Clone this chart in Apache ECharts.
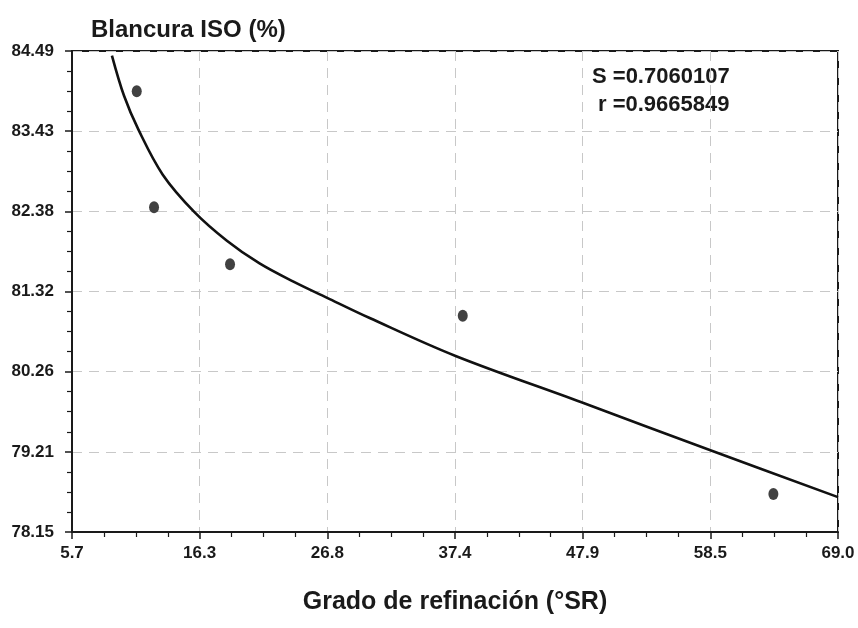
<!DOCTYPE html>
<html>
<head>
<meta charset="utf-8">
<script src="https://cdn.jsdelivr.net/npm/echarts@6/dist/echarts.min.js"></script>
<style>
html,body{margin:0;padding:0;background:#fff;}
#chart{width:858px;height:628px;}
</style>
</head>
<body>
<div id="chart"></div>
<script>
// Measured points
const pointX = [11.05, 12.48, 18.76, 37.99, 63.66];
const pointY = [83.96, 82.43, 81.68, 81.00, 78.65];
// Fitted curve
const curveX = [9.0, 10.0, 11.2, 13.2, 15.8, 18.5, 21.2, 24.0, 27.0, 30.3, 37.4, 47.8, 58.4, 69.0];
const curveY = [84.43, 83.90, 83.45, 82.86, 82.37, 81.99, 81.69, 81.45, 81.22, 80.97, 80.47, 79.86, 79.23, 78.61];
// Tick labels
const xTickLabels = ['5.7', '16.3', '26.8', '37.4', '47.9', '58.5', '69.0'];
const yTickLabels = ['78.15', '79.21', '80.26', '81.32', '82.38', '83.43', '84.49'];
const statText = ['S =0.7060107', 'r =0.9665849'];
const titleText = 'Blancura ISO (%)';
const xName = 'Grado de refinación (°SR)';

const xMin = 5.7, xMax = 69.0, yMin = 78.15, yMax = 84.49;
const FONT = "'Liberation Sans', Arial, sans-serif";

const chart = echarts.init(document.getElementById('chart'), null, {renderer: 'canvas'});
const option = {
  backgroundColor: '#ffffff',
  animation: false,
  title: {
    text: titleText, left: 86, top: 13,
    textStyle: {fontFamily: FONT, fontSize: 24, fontWeight: 'bold', color: '#1a1a1a'}
  },
  grid: {left: 72, right: 20, top: 51, bottom: 96, show: true, borderColor: '#1a1a1a', borderWidth: 2, outerBoundsMode: 'none'},
  xAxis: {
    type: 'value', min: xMin, max: xMax, interval: (xMax - xMin) / 6,
    name: xName, nameLocation: 'middle', nameGap: 58,
    nameTextStyle: {fontFamily: FONT, fontSize: 25, fontWeight: 'bold', color: '#1a1a1a'},
    axisLine: {show: true, lineStyle: {color: '#1a1a1a', width: 2}},
    axisTick: {show: true, length: 7, lineStyle: {color: '#1a1a1a', width: 1.5}},
    minorTick: {show: true, splitNumber: 4, length: 5, lineStyle: {color: '#1a1a1a', width: 1.2}},
    axisLabel: {margin: 13, fontFamily: FONT, fontSize: 17, fontWeight: 'bold', color: '#1a1a1a',
      formatter: (v, i) => xTickLabels[i]},
    splitLine: {show: true, lineStyle: {color: '#c8c8c8', width: 1, type: [10, 7]}}
  },
  yAxis: {
    type: 'value', min: yMin, max: yMax, interval: (yMax - yMin) / 6,
    axisLine: {show: true, lineStyle: {color: '#1a1a1a', width: 2}},
    axisTick: {show: true, length: 7, lineStyle: {color: '#1a1a1a', width: 1.5}},
    minorTick: {show: true, splitNumber: 4, length: 5, lineStyle: {color: '#1a1a1a', width: 1.2}},
    axisLabel: {margin: 18, fontFamily: FONT, fontSize: 17, fontWeight: 'bold', color: '#1a1a1a',
      formatter: (v, i) => yTickLabels[i]},
    splitLine: {show: true, lineStyle: {color: '#c8c8c8', width: 1, type: [10, 7]}}
  },
  graphic: [
    {type: 'text', left: 592, top: 66, style: {text: statText[0], font: "bold 22px 'Liberation Sans', Arial, sans-serif", fill: '#1a1a1a'}},
    {type: 'text', left: 598, top: 94, style: {text: statText[1], font: "bold 22px 'Liberation Sans', Arial, sans-serif", fill: '#1a1a1a'}}
  ],
  series: [
    {
      type: 'line', smooth: 0.35, showSymbol: false, clip: true,
      data: curveX.map((x, i) => [x, curveY[i]]),
      lineStyle: {color: '#111', width: 2.6}
    },
    {
      type: 'scatter', symbol: 'circle', symbolSize: [10, 12],
      data: pointX.map((x, i) => [x, pointY[i]]),
      itemStyle: {color: '#111'}
    }
  ]
};
chart.setOption(option);
</script>
</body>
</html>
